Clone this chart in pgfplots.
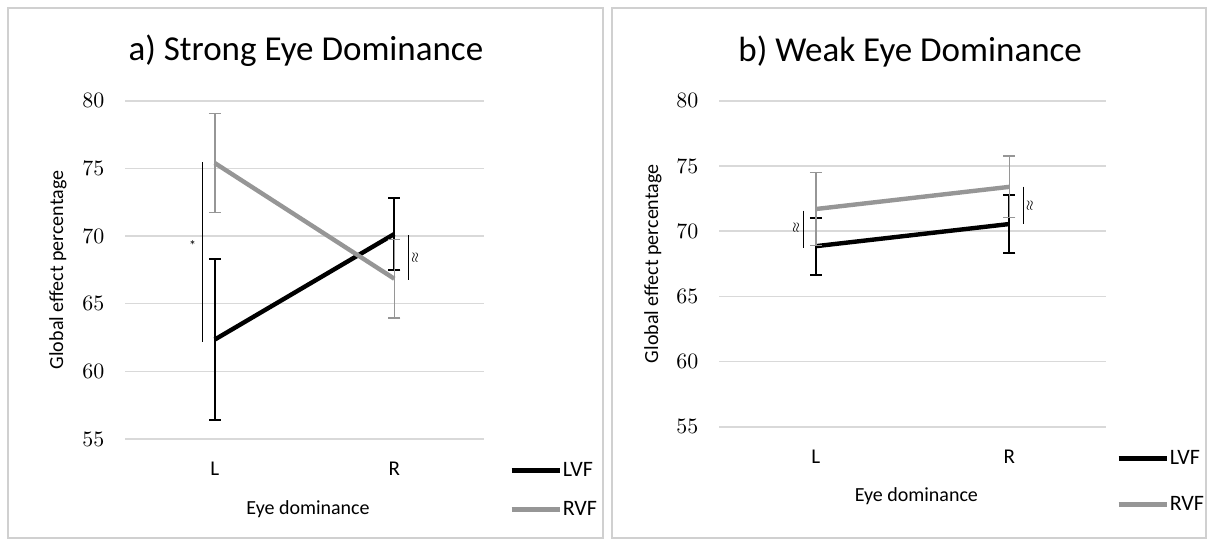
\documentclass[border=0pt]{standalone}
\usepackage{pgfplots}
\pgfplotsset{compat=1.18}
\usepackage{pgfplotstable}
\usepackage{fontspec}
\setmainfont{Carlito}
\definecolor{lvf}{RGB}{0,0,0}
\definecolor{rvf}{RGB}{150,150,150}
\definecolor{gridc}{RGB}{217,217,217}
\definecolor{framec}{RGB}{208,208,208}

% strong eye dominance
\pgfplotstableread{
x y e
0 62.35 5.95
1 70.15 2.65
}\strongLVF
\pgfplotstableread{
x y e
0 75.40 3.65
1 66.85 2.90
}\strongRVF
% weak eye dominance
\pgfplotstableread{
x y e
0 68.85 2.20
1 70.55 2.25
}\weakLVF
\pgfplotstableread{
x y e
0 71.70 2.80
1 73.40 2.35
}\weakRVF

\pgfplotsset{
  eyeaxis/.style={
    scale only axis, anchor=south west, clip=false,
    xmin=-0.5, xmax=1.5, ymin=55, ymax=80,
    xtick={0,1}, xticklabels={L,R},
    ytick={55,60,...,80},
    ymajorgrids, grid style={gridc, line width=0.75pt},
    axis line style={draw=none},
    major tick length=0pt,
    xticklabel style={font=\fontsize{10.5}{12}\selectfont, yshift=-8pt},
    yticklabel style={font=\fontsize{11}{13}\selectfont, xshift=-6.8pt},
    xlabel={Eye dominance},
    ylabel={Global effect percentage},
    label style={font=\fontsize{12.5}{15}\selectfont},
    legend style={draw=none, fill=none, anchor=west, inner sep=0pt,
      font=\fontsize{11}{13}\selectfont, nodes={inner sep=0.5pt}},
    legend cell align=left,
    legend image code/.code={\draw[##1] (0pt,0pt) -- (24pt,0pt);},
  },
  lvfline/.style={lvf, line width=2.2pt,
    error bars/.cd, y dir=both, y explicit,
    error bar style={line width=1pt},
    error mark options={rotate=90, line width=1pt, mark size=3pt}},
  rvfline/.style={rvf, line width=2.2pt,
    error bars/.cd, y dir=both, y explicit,
    error bar style={line width=0.75pt},
    error mark options={rotate=90, line width=0.75pt, mark size=3pt}},
}

\begin{document}
\begin{tikzpicture}
\useasboundingbox (0,0) rectangle (604.5pt,270.5pt);
\fill[white] (0,0) rectangle (604.5pt,270.5pt);
\draw[framec, line width=1pt] (4pt,1.5pt) rectangle (301.5pt,266.5pt);
\draw[framec, line width=1pt] (306pt,1.5pt) rectangle (603pt,266.5pt);

\begin{axis}[eyeaxis,
  at={(62.5pt,51pt)}, width=179.5pt, height=169.1pt,
  every axis x label/.style={at={(axis description cs:0.51,-0.207)}, anchor=center},
  every axis y label/.style={at={(axis description cs:-0.1866,0.5)}, rotate=90, anchor=center},
  legend style={at={(axis description cs:1.0696,-0.151)}, row sep=10pt},
]
\addplot[lvfline] table[x=x, y=y, y error=e] {\strongLVF};
\addlegendentry{LVF}
\addplot[rvfline] table[x=x, y=y, y error=e] {\strongRVF};
\addlegendentry{RVF}
\addplot[black, line width=0.5pt, forget plot] coordinates {(-0.067,75.45) (-0.067,62.2)};
\addplot[black, line width=0.5pt, forget plot] coordinates {(1.078,70.07) (1.078,66.76)};
\node[font=\fontsize{7}{8}\selectfont] at (axis cs:-0.123,69.3) {*};
\node[font=\fontsize{6}{7}\selectfont, rotate=90] at (axis cs:1.117,68.4) {$\approx$};
\node[font=\fontsize{17.5}{20}\selectfont] at (axis description cs:0.504,1.148) {a) Strong Eye Dominance};
\end{axis}

\begin{axis}[eyeaxis,
  at={(359.5pt,57.1pt)}, width=193.5pt, height=163pt,
  every axis x label/.style={at={(axis description cs:0.51,-0.212)}, anchor=center},
  every axis y label/.style={at={(axis description cs:-0.1705,0.5)}, rotate=90, anchor=center},
  legend style={at={(axis description cs:1.0258,-0.168)}, row sep=13.4pt},
]
\addplot[lvfline] table[x=x, y=y, y error=e] {\weakLVF};
\addlegendentry{LVF}
\addplot[rvfline] table[x=x, y=y, y error=e] {\weakRVF};
\addlegendentry{RVF}
\addplot[black, line width=0.5pt, forget plot] coordinates {(-0.062,71.57) (-0.062,68.7)};
\addplot[black, line width=0.5pt, forget plot] coordinates {(1.072,73.41) (1.072,70.53)};
\node[font=\fontsize{6}{7}\selectfont, rotate=90] at (axis cs:-0.1,70.25) {$\approx$};
\node[font=\fontsize{6}{7}\selectfont, rotate=90] at (axis cs:1.108,71.93) {$\approx$};
\node[font=\fontsize{17.5}{20}\selectfont] at (axis description cs:0.494,1.151) {b) Weak Eye Dominance};
\end{axis}
\end{tikzpicture}
\end{document}
